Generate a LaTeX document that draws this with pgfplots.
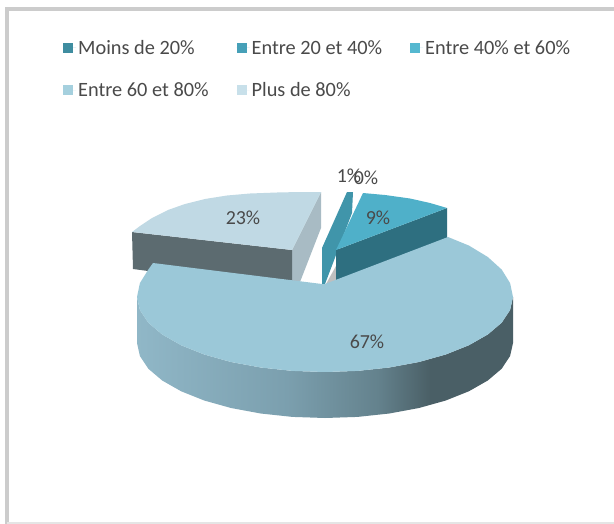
\documentclass[border=0pt]{standalone}
\usepackage{fontspec}
\setmainfont{Carlito}
\usepackage{pgfplots}
\pgfplotsset{compat=1.18}
\definecolor{cA}{HTML}{3F8DA0}
\definecolor{cB}{HTML}{46A0B8}
\definecolor{cC}{HTML}{55B8D0}
\definecolor{cD}{HTML}{A5D0DE}
\definecolor{cE}{HTML}{C8E0EA}
\definecolor{mainTop}{HTML}{9BC8D8}
\definecolor{lightTop}{HTML}{C0D9E4}
\definecolor{lightFront}{HTML}{5C6B70}
\definecolor{lightSide}{HTML}{A8BBC4}
\definecolor{oneFace}{HTML}{4095AA}
\definecolor{nineTop}{HTML}{4FB0C9}
\definecolor{nineFront}{HTML}{2E6F80}
\definecolor{txt}{HTML}{4A4A4A}
\definecolor{shA}{HTML}{90B7C7}
\definecolor{shB}{HTML}{7B9FAE}
\definecolor{shC}{HTML}{64828D}
\definecolor{shD}{HTML}{4A5F66}
\pgfdeclarehorizontalshading{sideshade}{100bp}{
  color(0bp)=(shA); color(25bp)=(shA); color(45bp)=(shB); color(57bp)=(shC); color(64bp)=(shD); color(75bp)=(shD); color(100bp)=(shD)}
\begin{document}
\begin{tikzpicture}
\begin{axis}[
  scale only axis, width=614bp, height=524bp,
  xmin=0, xmax=614, ymin=0, ymax=524, y dir=reverse,
  axis lines=none, clip=true,
  legend columns=3,
  legend cell align=left,
  legend style={at={(axis cs:60,36)},anchor=north west,draw=none,fill=none,
    font=\fontsize{20.4}{24.5}\selectfont\color{txt},
    row sep=22.5bp,
    /tikz/every even column/.append style={column sep=26bp}},
  legend image code/.code={\path[fill,#1] (0bp,-5bp) rectangle (10bp,5bp);\path (0bp,0bp) -- (13bp,0bp);},
]
% page
\addplot[forget plot,fill=white,draw=white,line width=0pt] coordinates {(0,0) (614,0) (614,524) (0,524)};
% frame
\addplot[forget plot,color=black!20,line width=3.5bp] coordinates {(7,524) (7,9) (614,9)};
\addplot[forget plot,color=black!10,line width=1.5bp] coordinates {(7,523) (614,523)};
% Plus de 80% (23%)
\addplot[forget plot,fill=lightSide,draw=none] coordinates {(321,192) (321,228) (300,282) (292,282) (292,250)};
\addplot[forget plot,fill=lightFront,draw=none] coordinates {(132,232) (292,250) (292,290) (133,269)};
\addplot[forget plot,fill=lightTop,draw=none] coordinates {(321,192) (300,192) (277,192.5) (250,193.5) (227,195.5) (205,199) (185,204) (168,210) (152,218) (140,226) (132,232) (292,250)};
% 1%
\addplot[forget plot,fill=black!25,draw=none] coordinates {(326,284) (336,266) (336,284)};
\addplot[forget plot,fill=oneFace,draw=none] coordinates {(347,192) (353,192) (352,213) (325,284) (322,284) (322,248)};
% 9%
\addplot[forget plot,fill=nineFront,draw=none] coordinates {(336,250) (447,208) (447,250) (336,290)};
\addplot[forget plot,fill=nineTop,draw=none] coordinates {(336,250) (363,193) (385,195) (410,198.5) (430,203) (447,208)};
% 67% side
\addplot[forget plot,shade,shading=sideshade,draw=none] coordinates {
 (513,297) (510.1,310) (501.7,322.7) (487.8,334.5) (469,345.2) (445.8,354.5) (419,362) (389.3,367.5) (357.6,370.9) (325,372) (292.4,370.9) (260.7,367.5) (231,362) (204.2,354.5) (181,345.2) (162.2,334.5) (148.3,322.7) (139.9,310) (137,297)
 (137,343) (139.9,356) (148.3,368.7) (162.2,380.5) (181,391.2) (204.2,400.5) (231,408) (260.7,413.5) (292.4,416.9) (325,418) (357.6,416.9) (389.3,413.5) (419,408) (445.8,400.5) (469,391.2) (487.8,380.5) (501.7,368.7) (510.1,356) (513,343)};
% 67% top
\addplot[forget plot,fill=mainTop,draw=none] coordinates {
 (448,237) (469,245.6) (487.8,257) (501.7,269.6) (510.1,283.1) (513,297) (510.1,310) (501.7,322.7) (487.8,334.5) (469,345.2) (445.8,354.5) (419,362) (389.3,367.5) (357.6,370.9) (325,372) (292.4,370.9) (260.7,367.5) (231,362) (204.2,354.5) (181,345.2) (162.2,334.5) (148.3,322.7) (139.9,310) (137,297) (139.9,283.1) (148.3,269.6) (153,263) (322,284) (325,284)};
% legend
\addlegendimage{fill=cA,draw=none}\addlegendentry{Moins de 20\%}
\addlegendimage{fill=cB,draw=none}\addlegendentry{Entre 20 et 40\%}
\addlegendimage{fill=cC,draw=none}\addlegendentry{Entre 40\% et 60\%}
\addlegendimage{fill=cD,draw=none}\addlegendentry{Entre 60 et 80\%}
\addlegendimage{fill=cE,draw=none}\addlegendentry{Plus de 80\%}
% labels
\begin{scope}[every node/.style={font=\fontsize{20}{24}\selectfont,text=txt,inner sep=0pt}]
\node at (axis cs:243,218) {23\%};
\node at (axis cs:378,218) {9\%};
\node at (axis cs:349,176) {1\%};
\node at (axis cs:366,178) {0\%};
\node at (axis cs:367,342) {67\%};
\end{scope}
\end{axis}
\end{tikzpicture}
\end{document}
